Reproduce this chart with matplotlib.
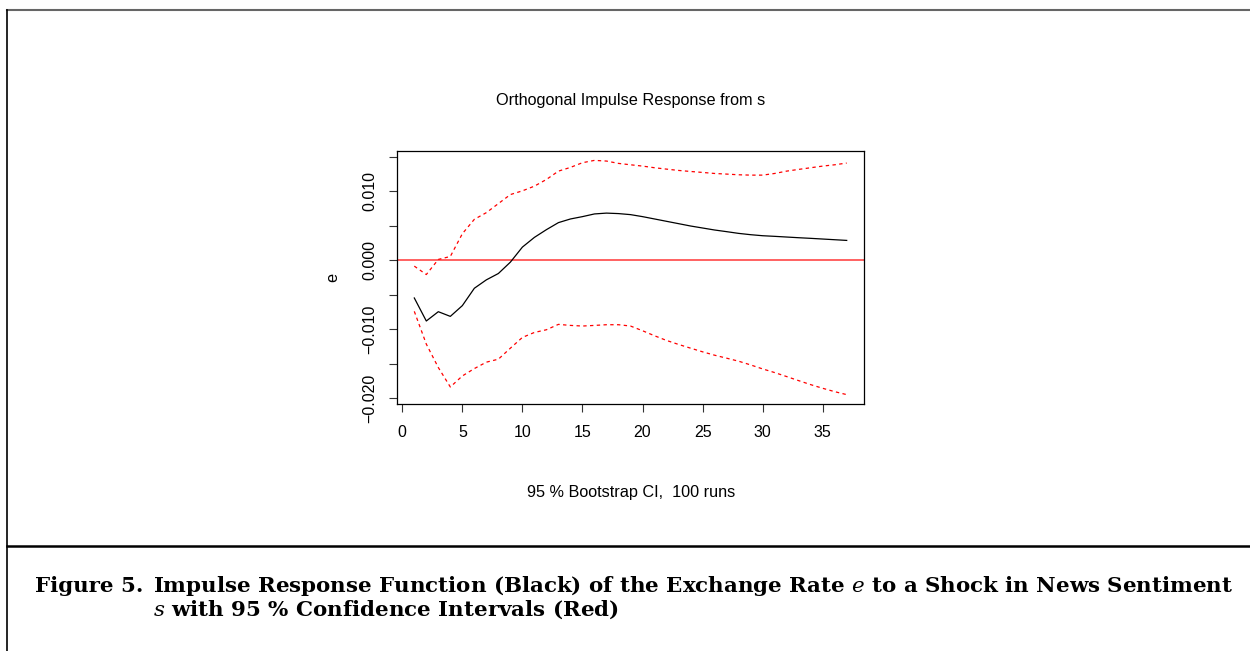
import numpy as np
import matplotlib
matplotlib.use('Agg')
import matplotlib.pyplot as plt
from matplotlib.lines import Line2D

# impulse response of e to a shock in s, horizon 1..37
horizon = np.arange(1, 38)
irf = [-0.00549, -0.00883, -0.00748, -0.00816, -0.00660, -0.00408, -0.00286, -0.00194,
       -0.00029, 0.00189, 0.00330, 0.00442, 0.00544, 0.00597, 0.00631, 0.00670,
       0.00682, 0.00675, 0.00660, 0.00631, 0.00597, 0.00563, 0.00529, 0.00495,
       0.00466, 0.00437, 0.00413, 0.00388, 0.00369, 0.00354, 0.00345, 0.00335,
       0.00325, 0.00316, 0.00306, 0.00296, 0.00286]
upper = [-0.00087, -0.00209, 0.00010, 0.00053, 0.00383, 0.00592, 0.00689, 0.00820,
         0.00951, 0.01005, 0.01073, 0.01170, 0.01291, 0.01345, 0.01413, 0.01447,
         0.01437, 0.01403, 0.01383, 0.01364, 0.01340, 0.01320, 0.01301, 0.01286,
         0.01272, 0.01257, 0.01248, 0.01238, 0.01233, 0.01233, 0.01257, 0.01291,
         0.01316, 0.01340, 0.01364, 0.01383, 0.01408]
lower = [-0.00743, -0.01218, -0.01558, -0.01840, -0.01680, -0.01573, -0.01480, -0.01437,
         -0.01277, -0.01121, -0.01049, -0.01010, -0.00932, -0.00947, -0.00956, -0.00947,
         -0.00937, -0.00937, -0.00956, -0.01024, -0.01097, -0.01165, -0.01223, -0.01277,
         -0.01330, -0.01379, -0.01422, -0.01466, -0.01520, -0.01578, -0.01631, -0.01689,
         -0.01748, -0.01806, -0.01859, -0.01908, -0.01951]
xticks = [0, 5, 10, 15, 20, 25, 30, 35]
yticks = [-0.020, -0.015, -0.010, -0.005, 0.000, 0.005, 0.010, 0.015]
ylabels = ['\u22120.020', '', '\u22120.010', '', '0.000', '', '0.010', '']

W, H = 1250, 651
fig = plt.figure(figsize=(W / 100, H / 100), dpi=100)
sans = ['Liberation Sans', 'DejaVu Sans']

ax = fig.add_axes([397 / W, 1 - 404 / H, (864 - 397) / W, (404 - 151) / H])
ax.axhline(0, color='#ff5555', linewidth=1.3)
ax.plot(horizon, upper, color='red', linewidth=0.9, dashes=(2.7, 2.7))
ax.plot(horizon, lower, color='red', linewidth=0.9, dashes=(2.7, 2.7))
ax.plot(horizon, irf, color='black', linewidth=0.9)

# R style 4% padding around the data range
ymin = min(lower)
ymax = max(upper)
pad = 0.04 * (ymax - ymin)
ax.set_xlim(1 - 0.04 * 36, 37 + 0.04 * 36)
ax.set_ylim(ymin - pad, ymax + pad)
ax.set_xticks(xticks)
ax.set_yticks(yticks)
ax.set_yticklabels(ylabels, rotation=90, va='center')
ax.tick_params(direction='out', length=6, width=0.8, labelsize=11.5, color='#333333')
ax.tick_params(axis='x', pad=9)
ax.tick_params(axis='y', pad=8)
for lab in ax.get_xticklabels() + ax.get_yticklabels():
    lab.set_family(sans)
for sp in ax.spines.values():
    sp.set_linewidth(0.9)

fig.text(631 / W, 1 - 101 / H, 'Orthogonal Impulse Response from s', ha='center', va='center',
         fontsize=11.7, family=sans)
fig.text(631 / W, 1 - 493 / H, '95 % Bootstrap CI,  100 runs', ha='center', va='center',
         fontsize=11.7, family=sans)
fig.text(333 / W, 1 - 277 / H, 'e', ha='center', va='center', rotation=90,
         fontsize=11.7, family=sans)

# frame around the figure and the caption rule
fig.add_artist(Line2D([7 / W, 1], [1 - 10 / H, 1 - 10 / H], color='#666666', linewidth=1.5))
fig.add_artist(Line2D([7 / W, 7 / W], [0, 1 - 10 / H], color='black', linewidth=1.2))
fig.add_artist(Line2D([7 / W, 1], [1 - 545.5 / H, 1 - 545.5 / H], color='black', linewidth=1.8))

plt.rcParams['mathtext.fontset'] = 'dejavuserif'
cap = dict(fontsize=15.4, fontweight='bold', family='DejaVu Serif', va='baseline', ha='left')
fig.text(35 / W, 1 - 592 / H, 'Figure 5.', **cap)
fig.text(153 / W, 1 - 592 / H,
         'Impulse Response Function (Black) of the Exchange Rate $e$ to a Shock in News Sentiment', **cap)
fig.text(153 / W, 1 - 616 / H, '$s$ with 95 % Confidence Intervals (Red)', **cap)

fig.savefig('out.png', dpi=100)
